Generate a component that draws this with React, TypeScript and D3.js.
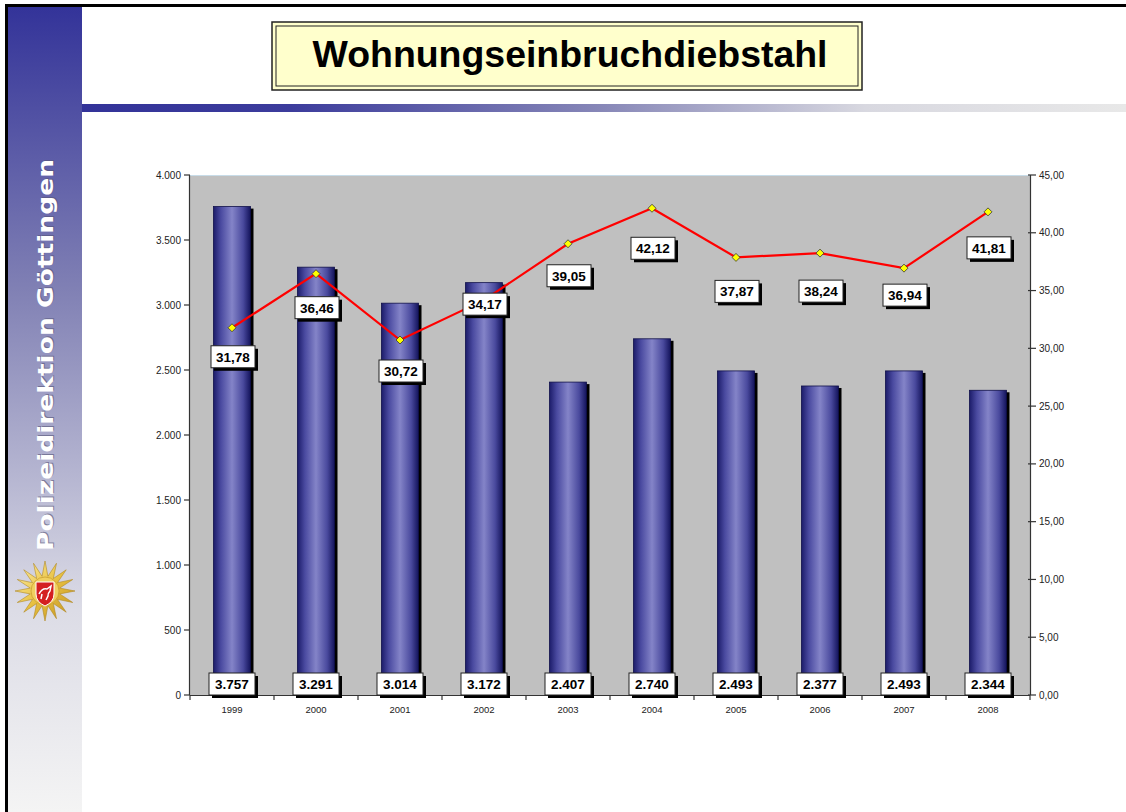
import React from "react";
import * as d3 from "d3";

const years = ["1999", "2000", "2001", "2002", "2003", "2004", "2005", "2006", "2007", "2008"];
const cases = [3757, 3291, 3014, 3172, 2407, 2740, 2493, 2377, 2493, 2344];
const rates = [31.78, 36.46, 30.72, 34.17, 39.05, 42.12, 37.87, 38.24, 36.94, 41.81];
const leftTicks = [0, 500, 1000, 1500, 2000, 2500, 3000, 3500, 4000];
const rightTicks = [0, 5, 10, 15, 20, 25, 30, 35, 40, 45];

const W = 1126;
const H = 812;
const plot = { left: 190, right: 1030, top: 175, bottom: 695 };
// label placement below the line points (layout only)
const LINE_LABEL_DY = [29, 34, 31, 4, 32, 40, 34, 38, 27, 36];

const fmtInt = (v: number) => d3.format(",")(v).replace(/,/g, ".");
const fmtDec = (v: number) => v.toFixed(2).replace(".", ",");

function LabelBox({ x, y, text, w = 44, h = 22 }: { x: number; y: number; text: string; w?: number; h?: number }) {
  return (
    <g>
      <rect x={x - w / 2 + 3} y={y - h / 2 + 3} width={w} height={h} fill="#000" />
      <rect x={x - w / 2} y={y - h / 2} width={w} height={h} fill="#fff" stroke="#222" strokeWidth={1} />
      <text x={x} y={y + 5} textAnchor="middle" fontFamily="Liberation Sans, Arial, sans-serif" fontWeight="bold" fontSize={13.5} fill="#000">
        {text}
      </text>
    </g>
  );
}

export default function App() {
  const x = d3.scaleBand<string>().domain(years).range([plot.left, plot.right]).paddingInner(0).paddingOuter(0);
  const yL = d3.scaleLinear().domain([0, 4000]).range([plot.bottom, plot.top]);
  const yR = d3.scaleLinear().domain([0, 45]).range([plot.bottom, plot.top]);
  const barW = 37;
  const cx = (y: string) => (x(y) as number) + x.bandwidth() / 2;
  const line = d3
    .line<number>()
    .x((_, i) => cx(years[i]))
    .y((d) => yR(d));

  const font = "Liberation Sans, Arial, sans-serif";

  const starPts: string[] = [];
  const nStar = 16;
  for (let i = 0; i < nStar * 2; i++) {
    const r = i % 2 === 0 ? 30 : 15;
    const a = (Math.PI * i) / nStar - Math.PI / 2;
    starPts.push(`${45 + r * Math.cos(a)},${591 + r * Math.sin(a)}`);
  }

  return (
    <svg width={W} height={H} style={{ position: "absolute", left: 0, top: 0 }}>
      <defs>
        <linearGradient id="side" x1="0" y1="0" x2="0" y2="1">
          <stop offset="0" stopColor="#333399" />
          <stop offset="0.35" stopColor="#8080b4" />
          <stop offset="0.75" stopColor="#dcdce6" />
          <stop offset="1" stopColor="#f4f4f4" />
        </linearGradient>
        <linearGradient id="band" x1="0" y1="0" x2="1" y2="0">
          <stop offset="0" stopColor="#333399" />
          <stop offset="0.2" stopColor="#3c3c9c" />
          <stop offset="0.5" stopColor="#8888b8" />
          <stop offset="0.75" stopColor="#d8d8e0" />
          <stop offset="1" stopColor="#e8e8e8" />
        </linearGradient>
        <linearGradient id="bar" x1="0" y1="0" x2="1" y2="0">
          <stop offset="0" stopColor="#1c1c6a" />
          <stop offset="0.2" stopColor="#4a4aa0" />
          <stop offset="0.5" stopColor="#8484c8" />
          <stop offset="0.8" stopColor="#4a4a9e" />
          <stop offset="1" stopColor="#14145c" />
        </linearGradient>
        <linearGradient id="gold" x1="0" y1="0" x2="1" y2="1">
          <stop offset="0" stopColor="#fff4b0" />
          <stop offset="0.5" stopColor="#e8c040" />
          <stop offset="1" stopColor="#c09020" />
        </linearGradient>
      </defs>

      <rect x={0} y={0} width={W} height={H} fill="#fff" />
      <rect x={7} y={6} width={75} height={H - 6} fill="url(#side)" />
      <rect x={82} y={104} width={W - 82} height={8} fill="url(#band)" />
      <rect x={5} y={4} width={W - 5} height={3} fill="#000" />
      <rect x={5} y={4} width={3} height={H - 4} fill="#000" />

      <g transform="translate(53,355) rotate(-90)">
        <text x={1} y={1} textAnchor="middle" fontFamily="DejaVu Sans, Verdana, sans-serif" fontWeight="bold" fontSize={21} fill="#555577" opacity={0.6} textLength={392} lengthAdjust="spacingAndGlyphs">
          Polizeidirektion Göttingen
        </text>
        <text x={0} y={0} textAnchor="middle" fontFamily="DejaVu Sans, Verdana, sans-serif" fontWeight="bold" fontSize={21} fill="#ffffff" textLength={392} lengthAdjust="spacingAndGlyphs">
          Polizeidirektion Göttingen
        </text>
      </g>

      <polygon points={starPts.join(" ")} fill="url(#gold)" stroke="#b08820" strokeWidth={0.6} />
      <circle cx={45} cy={591} r={14} fill="#f0d060" stroke="#c09020" strokeWidth={0.6} />
      <path d="M36,582 L54,582 L54,594 Q54,602 45,606 Q36,602 36,594 Z" fill="#d42020" stroke="#fff" strokeWidth={1} />
      <path d="M39,594 Q42,588 47,589 L51,586 L50,591 Q48,593 48,596 L46,600 M42,594 L41,599" stroke="#fff" strokeWidth={1.5} fill="none" />

      <rect x={272} y={22} width={590} height={68} fill="#ffffcc" stroke="#222" strokeWidth={1.5} />
      <rect x={276} y={26} width={582} height={60} fill="none" stroke="#222" strokeWidth={1} />
      <text x={570} y={67} textAnchor="middle" fontFamily={font} fontWeight="bold" fontSize={36} fill="#000" textLength={515} lengthAdjust="spacingAndGlyphs">
        Wohnungseinbruchdiebstahl
      </text>

      <rect x={plot.left} y={plot.top} width={plot.right - plot.left} height={plot.bottom - plot.top} fill="#c0c0c0" />
      <line x1={plot.left} x2={plot.right} y1={plot.top + 0.5} y2={plot.top + 0.5} stroke="#c8dce8" strokeWidth={1} />

      {cases.map((v, i) => {
        const bx = cx(years[i]) - barW / 2;
        return (
          <g key={"b" + i}>
            <rect x={bx + 3} y={yL(v) + 2} width={barW} height={plot.bottom - yL(v) - 2} fill="#000" />
            <rect x={bx} y={yL(v)} width={barW} height={plot.bottom - yL(v)} fill="url(#bar)" stroke="#10104a" strokeWidth={0.8} />
          </g>
        );
      })}

      <line x1={plot.left - 0.5} x2={plot.left - 0.5} y1={plot.top} y2={plot.bottom} stroke="#333" strokeWidth={1.2} />
      <line x1={plot.right + 0.5} x2={plot.right + 0.5} y1={plot.top} y2={plot.bottom} stroke="#333" strokeWidth={1.2} />
      <line x1={plot.left} x2={plot.right} y1={plot.bottom + 0.5} y2={plot.bottom + 0.5} stroke="#333" strokeWidth={1.2} />
      {leftTicks.map((t) => (
        <g key={"lt" + t}>
          <line x1={plot.left - 6} x2={plot.left} y1={yL(t)} y2={yL(t)} stroke="#333" strokeWidth={1.2} />
          <text x={plot.left - 9} y={yL(t) + 3.5} textAnchor="end" fontFamily={font} fontSize={10} fill="#222">
            {fmtInt(t)}
          </text>
        </g>
      ))}
      {rightTicks.map((t) => (
        <g key={"rt" + t}>
          <line x1={plot.right - 2} x2={plot.right + 6} y1={yR(t)} y2={yR(t)} stroke="#333" strokeWidth={1.2} />
          <text x={plot.right + 9} y={yR(t) + 3.5} textAnchor="start" fontFamily={font} fontSize={10} fill="#222">
            {fmtDec(t)}
          </text>
        </g>
      ))}
      {years.map((yv, i) => (
        <g key={"xt" + yv}>
          <line x1={(x(yv) as number)} x2={(x(yv) as number)} y1={plot.bottom} y2={plot.bottom + 5} stroke="#333" strokeWidth={1.2} />
          {i === years.length - 1 && (
            <line x1={plot.right} x2={plot.right} y1={plot.bottom} y2={plot.bottom + 5} stroke="#333" strokeWidth={1.2} />
          )}
          <text x={cx(yv)} y={plot.bottom + 18} textAnchor="middle" fontFamily={font} fontSize={9.5} fill="#222">
            {yv}
          </text>
        </g>
      ))}

      {cases.map((v, i) => (
        <LabelBox key={"bl" + i} x={cx(years[i])} y={plot.bottom - 11} text={fmtInt(v)} w={46} />
      ))}

      <path d={line(rates) || ""} fill="none" stroke="#ff0000" strokeWidth={2.2} />
      {rates.map((v, i) => {
        const px = cx(years[i]);
        const py = yR(v);
        return (
          <polygon key={"m" + i} points={`${px},${py - 4} ${px + 4},${py} ${px},${py + 4} ${px - 4},${py}`} fill="#ffff00" stroke="#333" strokeWidth={0.8} />
        );
      })}
      {rates.map((v, i) => (
        <LabelBox key={"ll" + i} x={cx(years[i]) + 1} y={yR(v) + LINE_LABEL_DY[i]} text={fmtDec(v)} />
      ))}
    </svg>
  );
}
